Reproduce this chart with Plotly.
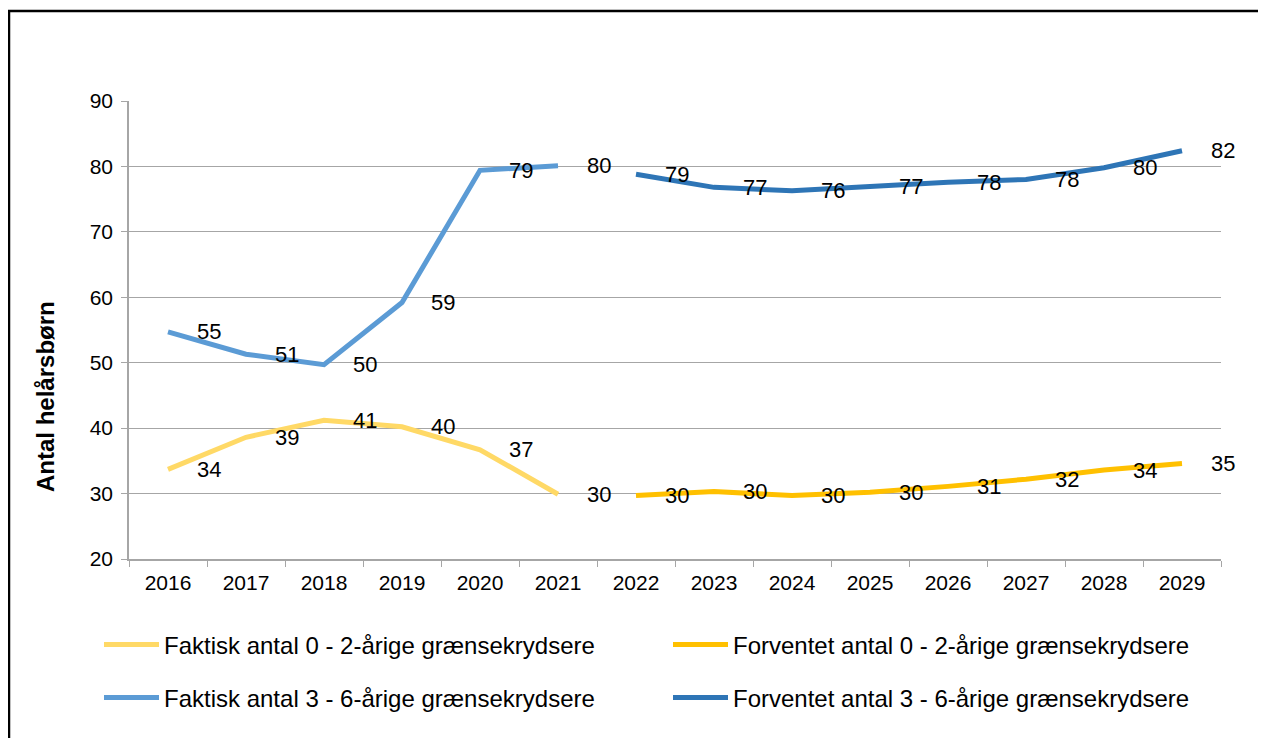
import plotly.graph_objects as go

years = [str(y) for y in range(2016, 2030)]

faktisk_02_years = years[:6]
faktisk_02 = [33.7, 38.6, 41.2, 40.2, 36.7, 29.9]
forventet_02_years = years[6:]
forventet_02 = [29.7, 30.3, 29.7, 30.2, 31.1, 32.2, 33.6, 34.6]

faktisk_36_years = years[:6]
faktisk_36 = [54.7, 51.3, 49.7, 59.2, 79.4, 80.1]
forventet_36_years = years[6:]
forventet_36 = [78.8, 76.8, 76.3, 76.9, 77.6, 78.0, 79.8, 82.4]

names = [
    "Faktisk antal 0 - 2-årige grænsekrydsere",
    "Forventet antal 0 - 2-årige grænsekrydsere",
    "Faktisk antal 3 - 6-årige grænsekrydsere",
    "Forventet antal 3 - 6-årige grænsekrydsere",
]
colors = ["#FFD966", "#FFC000", "#5B9BD5", "#2E75B6"]
series = [
    (faktisk_02_years, faktisk_02),
    (forventet_02_years, forventet_02),
    (faktisk_36_years, faktisk_36),
    (forventet_36_years, forventet_36),
]
legend_ids = ["legend", "legend2", "legend3", "legend4"]

FONT = "Liberation Sans, Arial, sans-serif"

# figure is drawn inside the page body (8px page margin), sizes in figure px
W, H = 1258, 730
L, R, T, B = 121, 45, 93, 179
pw, ph = W - L - R, H - T - B

fig = go.Figure()
annotations = []
for (xs, ys), name, col, lg in zip(series, names, colors, legend_ids):
    fig.add_trace(go.Scatter(
        x=xs, y=ys, mode="lines", name=name,
        line=dict(color=col, width=5),
        legend=lg, hoverinfo="skip",
    ))
    for x, y in zip(xs, ys):
        annotations.append(dict(
            x=years.index(x), y=y, xref="x", yref="y", text=f"{y:.0f}",
            showarrow=False, xanchor="left", yanchor="middle",
            xshift=27, font=dict(family=FONT, size=22, color="black"),
        ))

annotations.append(dict(
    x=(37 - L) / pw, y=(H - B - 389) / ph, xref="paper", yref="paper",
    text="<b>Antal helårsbørn</b>",
    showarrow=False, textangle=-90, font=dict(family=FONT, size=24, color="black"),
    xanchor="center", yanchor="middle",
))

legend_common = dict(
    orientation="h", xref="container", yref="container",
    xanchor="left", yanchor="middle", itemwidth=55,
    font=dict(family=FONT, size=24), bgcolor="rgba(0,0,0,0)",
)
col_x = [91, 660, 91, 660]
row_y = [637, 637, 690, 690]
legend_layout = {
    lg: dict(legend_common, x=cx / W, y=1 - ry / H)
    for lg, cx, ry in zip(legend_ids, col_x, row_y)
}

fig.update_layout(
    width=W, height=H,
    margin=dict(l=L, r=R, t=T, b=B),
    paper_bgcolor="white", plot_bgcolor="white",
    font=dict(family=FONT, size=21, color="black"),
    xaxis=dict(
        type="category", categoryorder="array", categoryarray=years,
        tickson="boundaries", ticks="outside", ticklen=6, tickcolor="#A6A6A6",
        showline=True, linecolor="#A6A6A6", linewidth=1.5, showgrid=False,
        tickfont=dict(family=FONT, size=21), range=[-0.5, 13.5],
        ticklabelstandoff=4,
    ),
    yaxis=dict(
        range=[20, 90], dtick=10, tick0=20,
        ticks="outside", ticklen=6, tickcolor="#A6A6A6",
        showline=True, linecolor="#A6A6A6", linewidth=1.5,
        showgrid=True, gridcolor="#A6A6A6", gridwidth=1.2,
        tickfont=dict(family=FONT, size=21), zeroline=False,
        ticklabelstandoff=4,
    ),
    annotations=annotations,
    shapes=[dict(
        type="rect", xref="paper", yref="paper",
        x0=(1 - L) / pw, x1=(W + 20 - L) / pw,
        y0=(H - B - (H + 20)) / ph, y1=(H - B - 3) / ph,
        line=dict(color="black", width=2.5), fillcolor="rgba(0,0,0,0)",
        layer="above",
    )],
    showlegend=True,
    **legend_layout,
)

fig.write_html("out.html")
